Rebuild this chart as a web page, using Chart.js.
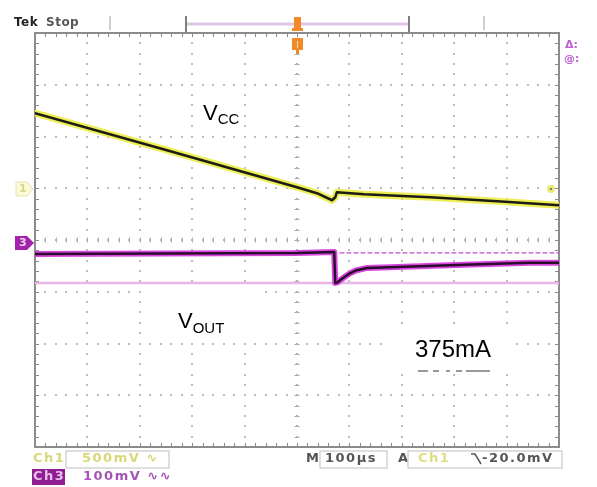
<!DOCTYPE html>
<html><head><meta charset="utf-8">
<script src="https://cdn.jsdelivr.net/npm/chart.js@4.4.1/dist/chart.umd.min.js"></script>
<style>html,body{margin:0;padding:0;background:#fff}canvas{display:block}</style>
</head><body>
<canvas id="c" width="597" height="487"></canvas>
<script>
// ---- data (time in µs relative to trigger, values in mV relative to channel marker) ----
const timeRange = [-500, 500];            // 100 µs/div, 10 divisions
const ch1Range = [-2500, 1500];           // 500 mV/div, marker 1 div above centre
const ch3Range = [-400, 400];             // 100 mV/div, marker at centre

const vccTime = [-500, -250, 0, 38, 67, 73, 76, 128, 254, 382, 500];
const vccMv   = [725, 370, 10, -48, -116, -87, -39, -58, -87, -126, -164];

const voutTime = [-500, -250, 0, 71, 73, 77, 82, 90, 100, 112, 134, 191, 319, 445, 500];
const voutMv   = [-27, -26, -25, -23, -83, -82, -78, -72, -65, -59, -54, -52, -48, -44, -44];

const refLevelTime = [-500, 500];
const refLevelMv   = [-83, -83];
const preLevelTime = [82, 500];
const preLevelMv   = [-25, -25];

const labels = { vcc: ["V", "CC"], vout: ["V", "OUT"], load: "375mA" };

const pts = (t, v) => t.map((x, i) => ({ x, y: v[i] }));

// ---- graticule ----
const graticule = {
  id: 'graticule',
  beforeDatasetsDraw(chart) {
    const { ctx, chartArea: a, scales: { x } } = chart;
    const L = a.left, R = a.right, T = a.top, B = a.bottom;
    const dx = (R - L) / 10, dy = (B - T) / 8;
    const cx = x.getPixelForValue(0), cy = (T + B) / 2;
    ctx.save();
    ctx.fillStyle = '#bdbdbd';
    for (let i = 1; i < 10; i++) {
      if (i === 5) continue;
      const px = Math.round(L + i * dx);
      for (let j = 1; j < 40; j++) ctx.fillRect(px - 1, Math.round(T + j * dy / 5) - 1, 2, 2);
    }
    for (let j = 1; j < 8; j++) {
      if (j === 4) continue;
      const py = Math.round(T + j * dy);
      for (let i = 1; i < 50; i++) ctx.fillRect(Math.round(L + i * dx / 5) - 1, py - 1, 2, 2);
    }
    ctx.strokeStyle = '#a8a8a8'; ctx.lineWidth = 1;
    ctx.beginPath();
    for (let i = 1; i < 50; i++) { const px = Math.round(L + i * dx / 5) + 0.5; ctx.moveTo(px, cy - 2.5); ctx.lineTo(px, cy + 2.5); }
    for (let j = 1; j < 40; j++) { const py = Math.round(T + j * dy / 5) + 0.5; ctx.moveTo(cx - 2.5, py); ctx.lineTo(cx + 2.5, py); }
    ctx.stroke();
    ctx.fillStyle = '#b0b0b0';
    for (let i = 1; i < 50; i++) ctx.fillRect(Math.round(L + i * dx / 5) - 1, Math.round(cy) - 1, 2, 2);
    for (let j = 1; j < 40; j++) ctx.fillRect(Math.round(cx) - 1, Math.round(T + j * dy / 5) - 1, 2, 2);
    ctx.strokeStyle = '#8a8a8a';
    ctx.beginPath();
    for (let i = 1; i < 50; i++) {
      const px = Math.round(L + i * dx / 5) + 0.5;
      ctx.moveTo(px, T); ctx.lineTo(px, T + 4);
      ctx.moveTo(px, B); ctx.lineTo(px, B - 4);
    }
    for (let j = 1; j < 40; j++) {
      const py = Math.round(T + j * dy / 5) + 0.5;
      ctx.moveTo(L, py); ctx.lineTo(L + 4, py);
      ctx.moveTo(R, py); ctx.lineTo(R - 4, py);
    }
    ctx.stroke();
    ctx.lineWidth = 2; ctx.strokeStyle = '#8c8c8c';
    ctx.strokeRect(L, T, R - L, B - T);
    ctx.fillStyle = '#fff';
    ctx.fillRect(141, 286, 124, 54);
    ctx.fillRect(383, 330, 131, 42);
    ctx.restore();
  },
  afterDatasetsDraw(chart) {
    const { ctx } = chart;
    ctx.save();
    ctx.fillStyle = '#000';
    ctx.textBaseline = 'alphabetic';
    ctx.font = '22px "Liberation Sans", Arial, sans-serif';
    ctx.fillText(labels.vcc[0], 203, 120);
    let w = ctx.measureText(labels.vcc[0]).width;
    ctx.font = '15px "Liberation Sans", Arial, sans-serif';
    ctx.fillText(labels.vcc[1], 203 + w, 124);
    ctx.font = '22px "Liberation Sans", Arial, sans-serif';
    ctx.fillText(labels.vout[0], 178, 328);
    w = ctx.measureText(labels.vout[0]).width;
    ctx.font = '15px "Liberation Sans", Arial, sans-serif';
    ctx.fillText(labels.vout[1], 178 + w, 333);
    ctx.font = '24px "Liberation Sans", Arial, sans-serif';
    ctx.fillText(labels.load, 415, 357);
    ctx.fillStyle = '#9a9a9a';
    ctx.fillRect(418, 370, 10, 2); ctx.fillRect(433, 370, 6, 2); ctx.fillRect(446, 370, 4, 2); ctx.fillRect(456, 370, 6, 2); ctx.fillRect(466, 370, 24, 2);
    ctx.restore();
  },
  afterDraw(chart) {
    const { ctx, scales: { x } } = chart;
    const cx = x.getPixelForValue(0);
    ctx.save();
    ctx.font = 'bold 12px "DejaVu Sans", sans-serif';
    ctx.textBaseline = 'middle';
    ctx.letterSpacing = '0.5px';
    ctx.fillStyle = '#222'; ctx.fillText('Tek', 14, 23);
    ctx.fillStyle = '#555'; ctx.fillText('Stop', 46, 23);
    ctx.letterSpacing = '0px';
    ctx.strokeStyle = '#cfcfcf'; ctx.lineWidth = 2;
    ctx.beginPath(); ctx.moveTo(110, 16); ctx.lineTo(110, 30); ctx.moveTo(484, 16); ctx.lineTo(484, 30); ctx.stroke();
    ctx.strokeStyle = '#e0c4e6'; ctx.lineWidth = 3;
    ctx.beginPath(); ctx.moveTo(187, 24); ctx.lineTo(408, 24); ctx.stroke();
    ctx.strokeStyle = '#555'; ctx.lineWidth = 1.5;
    ctx.beginPath(); ctx.moveTo(186, 16); ctx.lineTo(186, 32); ctx.moveTo(409, 16); ctx.lineTo(409, 32); ctx.stroke();
    ctx.fillStyle = '#f28a2a';
    ctx.fillRect(cx - 3, 17, 7, 11);
    ctx.fillRect(cx - 5, 28, 11, 3);
    ctx.fillRect(cx - 5, 38, 11, 12);
    ctx.fillRect(cx - 1, 50, 3, 4);
    ctx.fillStyle = '#fcd9a8';
    ctx.fillRect(cx, 41, 1, 7);
    ctx.fillStyle = '#c060d0';
    ctx.font = 'bold 11px "DejaVu Sans", sans-serif';
    ctx.fillText('Δ:', 565, 45);
    ctx.fillText('@:', 564, 59);
    ctx.fillStyle = '#fafad8'; ctx.strokeStyle = '#e4e4a8'; ctx.lineWidth = 1;
    ctx.beginPath(); ctx.moveTo(16, 182); ctx.lineTo(27, 182); ctx.lineTo(33, 189); ctx.lineTo(27, 196); ctx.lineTo(16, 196); ctx.closePath(); ctx.fill(); ctx.stroke();
    ctx.fillStyle = '#d6d68a'; ctx.font = 'bold 11px "DejaVu Sans", sans-serif';
    ctx.fillText('1', 19, 189);
    ctx.fillStyle = '#a224a8';
    ctx.beginPath(); ctx.moveTo(15, 236); ctx.lineTo(27, 236); ctx.lineTo(34, 243); ctx.lineTo(27, 250); ctx.lineTo(15, 250); ctx.closePath(); ctx.fill();
    ctx.fillStyle = '#f0d0f0'; ctx.fillText('3', 19, 243);
    ctx.fillStyle = '#eaea70';
    ctx.beginPath(); ctx.arc(551, 189, 4, 0, Math.PI * 2); ctx.fill();
    ctx.fillStyle = '#777'; ctx.fillRect(550, 188, 2, 2);
    // bottom readouts
    ctx.font = 'bold 13px "DejaVu Sans", sans-serif';
    ctx.letterSpacing = '1.5px';
    ctx.textBaseline = 'middle';
    ctx.fillStyle = '#d8d878'; ctx.fillText('Ch1', 33, 459);
    ctx.strokeStyle = '#d4d4d4'; ctx.lineWidth = 1.5;
    ctx.strokeRect(66, 451, 103, 17);
    ctx.fillText('500mV ∿', 82, 459);
    ctx.fillStyle = '#8e1e92'; ctx.fillRect(32, 469, 33, 16);
    ctx.fillStyle = '#e8c0ea'; ctx.fillText('Ch3', 33, 477);
    ctx.fillStyle = '#a454b4'; ctx.fillText('100mV ∿∿', 83, 477);
    ctx.fillStyle = '#555'; ctx.fillText('M', 306, 459);
    ctx.strokeRect(320, 451, 67, 17);
    ctx.fillText('100µs', 325, 459);
    ctx.fillText('A', 398, 459);
    ctx.strokeRect(408, 451, 154, 17);
    ctx.fillStyle = '#dede80'; ctx.fillText('Ch1', 418, 459);
    ctx.strokeStyle = '#555'; ctx.lineWidth = 1.5;
    ctx.beginPath(); ctx.moveTo(471, 454); ctx.lineTo(475, 454); ctx.lineTo(481, 464); ctx.stroke();
    ctx.fillStyle = '#555'; ctx.fillText('-20.0mV', 482, 459);
    ctx.restore();
  }
};

// Chart.js paints dataset 0 last (on top), so dark trace cores come first.
new Chart(document.getElementById('c'), {
  type: 'line',
  data: {
    datasets: [
      { data: pts(voutTime, voutMv), yAxisID: 'y3', borderColor: '#2a0c2c', borderWidth: 2.5, pointRadius: 0 },
      { data: pts(vccTime, vccMv), yAxisID: 'y1', borderColor: '#1c1c14', borderWidth: 2.5, pointRadius: 0 },
      { data: pts(voutTime, voutMv), yAxisID: 'y3', borderColor: 'rgba(214,60,220,0.95)', borderWidth: 6, pointRadius: 0 },
      { data: pts(vccTime, vccMv), yAxisID: 'y1', borderColor: 'rgba(236,236,70,0.9)', borderWidth: 7, pointRadius: 0 },
      { data: pts(preLevelTime, preLevelMv), yAxisID: 'y3', borderColor: '#c64ccc', borderWidth: 1.2, borderDash: [4, 3], pointRadius: 0 },
      { data: pts(refLevelTime, refLevelMv), yAxisID: 'y3', borderColor: '#e9b6ea', borderWidth: 2.5, pointRadius: 0 }
    ]
  },
  options: {
    responsive: false,
    animation: false,
    events: [],
    layout: { padding: { left: 35, top: 33, right: 38, bottom: 40 } },
    plugins: { legend: { display: false }, tooltip: { enabled: false } },
    elements: { line: { tension: 0, borderCapStyle: 'round', borderJoinStyle: 'round' } },
    scales: {
      x: { type: 'linear', min: timeRange[0], max: timeRange[1], display: false },
      y1: { type: 'linear', min: ch1Range[0], max: ch1Range[1], display: false },
      y3: { type: 'linear', min: ch3Range[0], max: ch3Range[1], display: false }
    }
  },
  plugins: [graticule]
});
</script>
</body></html>
